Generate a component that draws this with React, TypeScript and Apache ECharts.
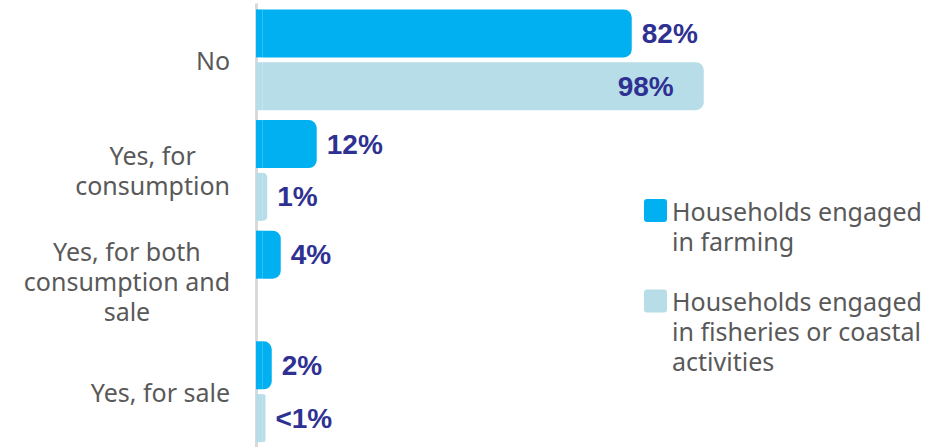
import React, { useEffect, useRef } from "react";
import * as echarts from "echarts";

const categories = [
  "No",
  "Yes, for\nconsumption",
  "Yes, for both\nconsumption and\nsale",
  "Yes, for sale",
];
const seriesNames = [
  "Households engaged in farming",
  "Households engaged in fisheries or coastal activities",
];
const legendLines = [
  ["Households engaged", "in farming"],
  ["Households engaged", "in fisheries or coastal", "activities"],
];
const farming: (number | null)[] = [82, 12, 4, 2];
const fisheries: (number | null)[] = [98, 1, null, 0.6];
const farmingLabels = ["82%", "12%", "4%", "2%"];
const fisheriesLabels = ["98%", "1%", "", "<1%"];

// small extension of each bar to the left of zero (rounded-cap look of the original)
const CAP = -1.5;

const COLORS = ["#00B0F0", "#B7DEE8"];
const LABEL_COLOR = "#2E3192";
const TEXT_COLOR = "#595959";
const FONT = "Noto Sans";

export default function App() {
  const ref = useRef<HTMLDivElement>(null);

  useEffect(() => {
    document.body.style.margin = "0";
    if (!ref.current) return;
    const chart = echarts.init(ref.current, undefined, { renderer: "svg" });

    const mainSeries = (idx: number, values: (number | null)[], labels: string[]) => ({
      name: seriesNames[idx],
      type: "bar",
      stack: "s" + idx,
      barWidth: 48,
      barGap: "10%",
      data: values.map((v, i) => {
        if (v == null) return null;
        const item: any = { value: v };
        if (idx === 1 && i === 0) {
          item.label = { position: "insideRight", distance: 30 };
        }
        return item;
      }),
      itemStyle: { color: COLORS[idx], borderRadius: [0, 8, 8, 0] },
      label: {
        show: true,
        position: "right",
        distance: 10,
        formatter: (p: any) => labels[p.dataIndex],
        color: LABEL_COLOR,
        fontFamily: "Liberation Sans",
        fontWeight: "bold",
        fontSize: 28,
      },
      silent: true,
    });

    const capSeries = (idx: number, values: (number | null)[]) => ({
      name: "cap" + idx,
      type: "bar",
      stack: "s" + idx,
      barWidth: 48,
      barGap: "10%",
      data: values.map((v) => (v == null ? null : CAP)),
      itemStyle: { color: COLORS[idx] },
      silent: true,
    });

    const legendCommon = {
      orient: "vertical",
      left: 644,
      padding: 0,
      itemWidth: 23,
      itemHeight: 23,
      selectedMode: false,
      icon: "path://M3,0 H20 Q23,0 23,3 V20 Q23,23 20,23 H3 Q0,23 0,20 V3 Q0,0 3,0 Z",
      textStyle: { fontSize: 25, fontFamily: FONT, color: TEXT_COLOR, lineHeight: 30 },
    };

    chart.setOption({
      animation: false,
      grid: { left: 256, right: 9.25, top: 4.5, bottom: -5, containLabel: false },
      xAxis: {
        type: "value",
        min: -1.5,
        max: 150,
        show: false,
        splitLine: { show: false },
      },
      yAxis: {
        type: "category",
        data: categories,
        inverse: true,
        axisTick: { show: false },
        axisLine: { show: true, onZero: false, lineStyle: { color: "#D9D9D9", width: 3 } },
        axisLabel: {
          margin: 26,
          formatter: (v: string) =>
            v
              .split("\n")
              .map((l) => `{c|${l}}`)
              .join("\n"),
          rich: {
            c: {
              align: "center",
              fontSize: 25,
              fontFamily: FONT,
              color: TEXT_COLOR,
              lineHeight: 30,
            },
          },
        },
      },
      legend: [
        {
          ...legendCommon,
          top: 165.5,
          data: [seriesNames[0]],
          formatter: () => ["", ...legendLines[0]].join("\n"),
        },
        {
          ...legendCommon,
          top: 226,
          data: [seriesNames[1]],
          formatter: () => ["", "", ...legendLines[1]].join("\n"),
        },
      ],
      series: [
        capSeries(0, farming),
        mainSeries(0, farming, farmingLabels),
        capSeries(1, fisheries),
        mainSeries(1, fisheries, fisheriesLabels),
      ],
    });

    return () => chart.dispose();
  }, []);

  return <div ref={ref} style={{ width: 947, height: 447 }} />;
}
